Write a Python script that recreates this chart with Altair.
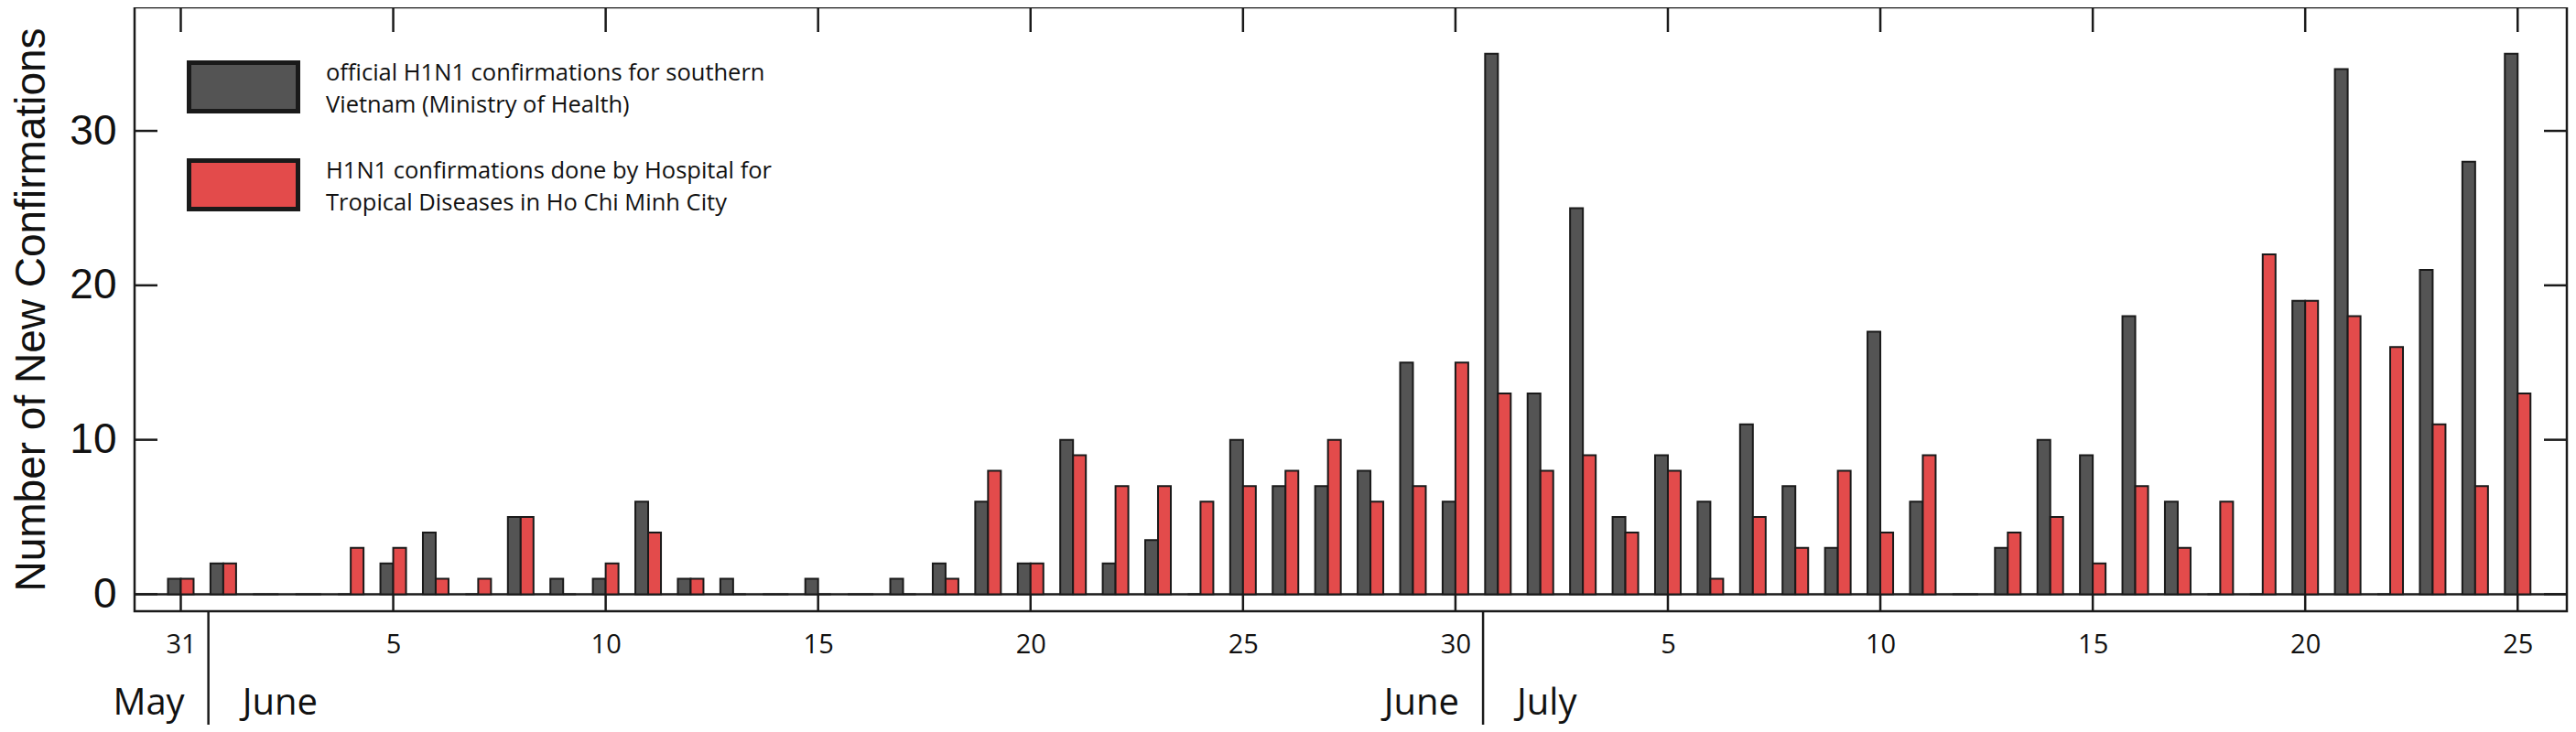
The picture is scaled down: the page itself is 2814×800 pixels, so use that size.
import json
import altair as alt
import pandas as pd

# ---------- data ----------
# day index: 0 = 31 May, 1..30 = 1..30 June, 31..55 = 1..25 July
official = [1, 2, 0, 0, 0, 2, 4, 0, 5, 1, 1, 6, 1, 1, 0, 1, 0, 1, 2, 6, 2, 10, 2, 3.5, 0, 10, 7, 7, 8, 15, 6,
            35, 13, 25, 5, 9, 6, 11, 7, 3, 17, 6, 0, 3, 10, 9, 18, 6, 0, 0, 19, 34, 0, 21, 28, 35]
hospital = [1, 2, 0, 0, 3, 3, 1, 1, 5, 0, 2, 4, 1, 0, 0, 0, 0, 0, 1, 8, 2, 9, 7, 7, 6, 7, 8, 10, 6, 7, 15,
            13, 8, 9, 4, 8, 1, 5, 3, 8, 4, 9, 0, 4, 5, 2, 7, 3, 6, 22, 19, 18, 16, 11, 7, 13]

tick_index = [0, 5, 10, 15, 20, 25, 30, 35, 40, 45, 50, 55]
tick_labels = ["31", "5", "10", "15", "20", "25", "30", "5", "10", "15", "20", "25"]
y_ticks = [0, 10, 20, 30]

# month boundaries: index of first day of the new month
boundary_index = [1, 31]
month_before = ["May", "June"]
month_after = ["June", "July"]

legend_lines = [
    ["official H1N1 confirmations for southern", "Vietnam (Ministry of Health)"],
    ["H1N1 confirmations done by Hospital for", "Tropical Diseases in Ho Chi Minh City"],
]

GRAY = "#545454"
RED = "#e34b4b"
EDGE = "#1a1a1a"

W, H = 2657, 660
Y_MIN, Y_TOP = -1.1, 38
TICK_LEN = 1.6  # inner tick length, in y units

df = pd.DataFrame({"idx": list(range(len(official))), "official": official, "hospital": hospital})
ticks_df = pd.DataFrame({"idx": tick_index})
yticks_df = pd.DataFrame({"v": y_ticks})
months_df = pd.DataFrame({"b": boundary_index, "before": month_before, "after": month_after})

x_scale = alt.Scale(domain=[-0.98, 56.05], nice=False, zero=False)
y_scale = alt.Scale(domain=[Y_MIN, Y_TOP], nice=False, zero=False)

label_expr = "{}[indexof({}, datum.value)]".format(json.dumps(tick_labels), json.dumps(tick_index))

x_axis = alt.Axis(values=tick_index, labelExpr=label_expr, ticks=False, tickSize=0, domain=False,
                  grid=False, labelFont="Open Sans", labelFontSize=29, labelColor="#111",
                  labelBaseline="middle", labelPadding=36, title=None)
y_axis = alt.Axis(values=y_ticks, ticks=False, tickSize=0, domain=False, grid=False,
                  labelFont="Liberation Sans", labelFontSize=46, labelColor="#111", labelPadding=20,
                  title="Number of New Confirmations", titleFont="Liberation Sans", titleFontSize=46,
                  titleFontWeight="normal", titleColor="#111", titleBaseline="alphabetic", titlePadding=27)

base = alt.Chart(df)

gray_bars = base.mark_bar(width=14, xOffset=-7, fill=GRAY, stroke=EDGE, strokeWidth=2).encode(
    x=alt.X("idx:Q", scale=x_scale, axis=x_axis),
    y=alt.Y("official:Q", scale=y_scale, axis=y_axis),
    y2=alt.datum(0),
)
red_bars = base.mark_bar(width=14, xOffset=7, fill=RED, stroke=EDGE, strokeWidth=2).encode(
    x=alt.X("idx:Q", scale=x_scale),
    y=alt.Y("hospital:Q", scale=y_scale),
    y2=alt.datum(0),
)

zero_line = alt.Chart(yticks_df).transform_filter("datum.v == 0").mark_rule(
    color=EDGE, strokeWidth=2.5).encode(
    y=alt.Y("v:Q", scale=y_scale), x=alt.value(0.01), x2=alt.value(W))

# inward ticks on all four sides of the frame
xt = alt.Chart(ticks_df).transform_calculate(
    top=f"{Y_TOP}", top2=f"{Y_TOP - TICK_LEN}", bot=f"{Y_MIN}", bot2="0")
top_ticks = xt.mark_rule(color=EDGE, strokeWidth=2.5).encode(
    x=alt.X("idx:Q", scale=x_scale), y=alt.Y("top:Q", scale=y_scale), y2="top2:Q")
bottom_ticks = xt.mark_rule(color=EDGE, strokeWidth=2.5).encode(
    x=alt.X("idx:Q", scale=x_scale), y=alt.Y("bot:Q", scale=y_scale), y2="bot2:Q")
left_ticks = alt.Chart(yticks_df).mark_rule(color=EDGE, strokeWidth=2.5).encode(
    y=alt.Y("v:Q", scale=y_scale), x=alt.value(0.01), x2=alt.value(25))
right_ticks = alt.Chart(yticks_df).mark_rule(color=EDGE, strokeWidth=2.5).encode(
    y=alt.Y("v:Q", scale=y_scale), x=alt.value(W - 25), x2=alt.value(W))

months = alt.Chart(months_df).transform_calculate(sep="datum.b - 0.35")
separators = months.mark_rule(color=EDGE, strokeWidth=2.5).encode(
    x=alt.X("sep:Q", scale=x_scale), y=alt.value(H), y2=alt.value(H + 130))
month_left = months.mark_text(align="right", baseline="alphabetic", dx=-26, font="Open Sans",
                              fontSize=40, color="#111").encode(
    x=alt.X("sep:Q", scale=x_scale), y=alt.value(773), text="before:N")
month_right = months.mark_text(align="left", baseline="alphabetic", dx=37, font="Open Sans",
                               fontSize=40, color="#111").encode(
    x=alt.X("sep:Q", scale=x_scale), y=alt.value(773), text="after:N")

legend_layers = []
for i, (lines, col) in enumerate(zip(legend_lines, [GRAY, RED])):
    top = 60.5 + i * 107
    legend_layers.append(
        alt.Chart(df).transform_filter("datum.idx == 0").mark_rect(
            fill=col, stroke=EDGE, strokeWidth=5).encode(
            x=alt.value(59.5), x2=alt.value(178.5), y=alt.value(top), y2=alt.value(top + 53))
    )
    legend_layers.append(
        alt.Chart(df).transform_filter("datum.idx == 0").mark_text(
            text=lines, align="left", baseline="alphabetic", lineHeight=35, font="Open Sans",
            fontSize=25.5, color="#111").encode(
            x=alt.value(209), y=alt.value(80 + i * 107))
    )

chart = alt.layer(
    zero_line, gray_bars, red_bars, top_ticks, bottom_ticks, left_ticks, right_ticks,
    separators, month_left, month_right, *legend_layers
).properties(
    width=W, height=H,
    autosize=alt.AutoSizeParams(type="none"),
    padding={"left": 139, "top": 0, "right": 2, "bottom": 124},
).configure(background="white").configure_view(stroke=EDGE, strokeWidth=2.5)

chart.save("out.html", embed_options={"renderer": "svg", "actions": False})
